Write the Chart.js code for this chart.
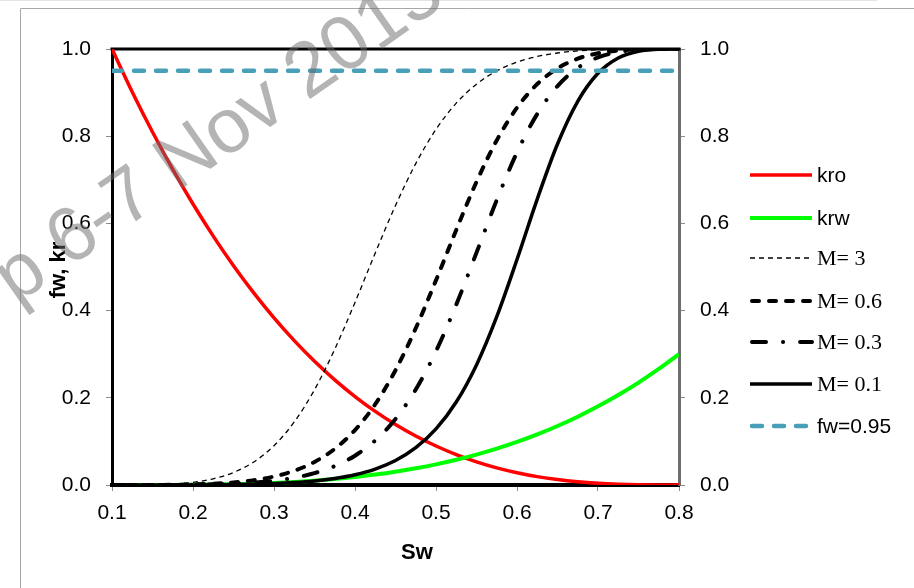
<!DOCTYPE html>
<html><head><meta charset="utf-8">
<script src="https://cdn.jsdelivr.net/npm/chart.js@4"></script>
<style>html,body{margin:0;padding:0;background:#fff;}#wrap{width:914px;height:588px;position:relative;}</style>
</head><body><div id="wrap"><canvas id="c" width="914" height="588"></canvas></div>
<script>
// ---- data ----
const sw = [0.1,0.125,0.15,0.175,0.2,0.225,0.25,0.275,0.3,0.325,0.35,0.375,0.4,0.425,0.45,0.475,0.5,0.525,0.55,0.575,0.6,0.625,0.65,0.675,0.7,0.725,0.75,0.775,0.8];
const kro = [1,0.9015,0.8096,0.724,0.6445,0.5709,0.5029,0.4405,0.3833,0.3312,0.2839,0.2412,0.2029,0.1688,0.1387,0.1123,0.0894,0.0698,0.0532,0.0394,0.0282,0.0192,0.0124,0.0074,0.0039,0.0017,0.0005,0.0001,0];
const krw = [0,0,0.0001,0.0002,0.0005,0.001,0.0019,0.0031,0.0048,0.0071,0.01,0.0137,0.0183,0.0239,0.0305,0.0383,0.0473,0.0578,0.0698,0.0834,0.0988,0.1161,0.1354,0.1567,0.1804,0.2064,0.2349,0.2661,0.3];
const fwM3 = [0,0.0001,0.0006,0.0022,0.0062,0.0143,0.0288,0.0528,0.0902,0.1446,0.2185,0.3114,0.4188,0.532,0.641,0.7372,0.8157,0.8758,0.9194,0.9497,0.9698,0.9828,0.9908,0.9955,0.998,0.9993,0.9998,1,1];
const fwM06 = [0,0,0.0001,0.0004,0.0013,0.0029,0.0059,0.011,0.0194,0.0327,0.0529,0.0829,0.126,0.1853,0.2632,0.3594,0.4695,0.5851,0.6953,0.7905,0.8654,0.9196,0.9556,0.9778,0.9903,0.9965,0.9991,0.9999,1];
const fwM03 = [0,0,0.0001,0.0002,0.0006,0.0015,0.003,0.0056,0.0098,0.0166,0.0272,0.0433,0.0672,0.1021,0.1515,0.219,0.3068,0.4136,0.5329,0.6536,0.7628,0.8511,0.915,0.9566,0.9807,0.9931,0.9983,0.9998,1];
const fwM01 = [0,0,0,0.0001,0.0002,0.0005,0.001,0.0019,0.0033,0.0056,0.0092,0.0149,0.0235,0.0365,0.0562,0.0855,0.1286,0.1903,0.2755,0.3861,0.5173,0.6558,0.7821,0.8801,0.9443,0.9795,0.9949,0.9995,1];
const fwLimitSw = [0.1, 0.8];
const fwLimit = [0.95, 0.95];
const xTicks = [0.1,0.2,0.3,0.4,0.5,0.6,0.7,0.8];
const yTicks = [0,0.2,0.4,0.6,0.8,1.0];
const seriesNames = ['kro','krw','M= 3','M= 0.6','M= 0.3','M= 0.1','fw=0.95'];
const xTitle = 'Sw';
const yTitle = 'fw, kr';
const watermark = 'p 6-7 Nov 2013';

// ---- chart ----
const SANS = '"Liberation Sans", Arial, sans-serif';
const SERIF = '"Liberation Serif", "Times New Roman", serif';
const pts = (xs, ys) => xs.map((x, i) => ({x: x, y: ys[i]}));
const base = {pointRadius: 0, pointHoverRadius: 0, fill: false, cubicInterpolationMode: 'monotone', borderJoinStyle: 'round'};

const datasets = [
  Object.assign({}, base, {label: seriesNames[0], data: pts(sw, kro), borderColor: '#FF0000', borderWidth: 3.5, order: 6}),
  Object.assign({}, base, {label: seriesNames[1], data: pts(sw, krw), borderColor: '#00FF00', borderWidth: 4, order: 5}),
  Object.assign({}, base, {label: seriesNames[2], data: pts(sw, fwM3), borderColor: '#000000', borderWidth: 1.3, borderDash: [5, 4], order: 4}),
  Object.assign({}, base, {label: seriesNames[3], data: pts(sw, fwM06), borderColor: '#000000', borderWidth: 4, borderDash: [7, 10], borderCapStyle: 'round', order: 3}),
  Object.assign({}, base, {label: seriesNames[4], data: pts(sw, fwM03), borderColor: '#000000', borderWidth: 4, borderDash: [14, 17, 0.1, 17], borderCapStyle: 'round', order: 2}),
  Object.assign({}, base, {label: seriesNames[5], data: pts(sw, fwM01), borderColor: '#000000', borderWidth: 3.5, order: 1}),
  Object.assign({}, base, {label: seriesNames[6], data: pts(fwLimitSw, fwLimit), borderColor: '#4A9FB8', borderWidth: 4.5, borderDash: [10, 12], borderCapStyle: 'round', cubicInterpolationMode: 'default', order: 0})
];
const legendFonts = ['21px ' + SANS, '21px ' + SANS, '22px ' + SERIF, '22px ' + SERIF, '22px ' + SERIF, '22px ' + SERIF, '21px ' + SANS];
const legendY = [175, 218, 258, 301, 342, 384, 426];

const decor = {
  id: 'decor',
  beforeDatasetsDraw(chart) {
    const ctx = chart.ctx, a = chart.chartArea;
    ctx.save();
    ctx.strokeStyle = '#000'; ctx.lineWidth = 3;
    ctx.beginPath(); ctx.moveTo(a.left - 1.5, a.top); ctx.lineTo(a.right + 1.5, a.top); ctx.stroke();
    ctx.restore();
  },
  afterDraw(chart) {
    const ctx = chart.ctx, a = chart.chartArea;
    ctx.save();
    // outer frame
    ctx.strokeStyle = '#A8A8A8'; ctx.lineWidth = 1;
    ctx.beginPath(); ctx.moveTo(20.5, 588); ctx.lineTo(20.5, 8.5); ctx.lineTo(914, 8.5); ctx.stroke();
    ctx.strokeStyle = '#E4E4E4';
    ctx.beginPath(); ctx.moveTo(0, 0.5); ctx.lineTo(877, 0.5); ctx.stroke();
    // axis titles
    ctx.fillStyle = '#000';
    ctx.font = 'bold 22px ' + SANS;
    ctx.textAlign = 'center'; ctx.textBaseline = 'middle';
    ctx.fillText(xTitle, 417, 553);
    ctx.save();
    ctx.translate(59, 270); ctx.rotate(-Math.PI / 2);
    ctx.fillText(yTitle, 0, 0);
    ctx.restore();
    // legend
    chart.data.datasets.forEach((ds, i) => {
      const y = legendY[i];
      ctx.save();
      ctx.strokeStyle = ds.borderColor; ctx.lineWidth = ds.borderWidth;
      ctx.lineCap = ds.borderCapStyle || 'butt';
      ctx.setLineDash(ds.borderDash || []);
      ctx.beginPath(); ctx.moveTo(750 + (ds.borderCapStyle === 'round' ? 2 : 0), y); ctx.lineTo(812, y); ctx.stroke();
      ctx.restore();
      ctx.font = legendFonts[i];
      ctx.textAlign = 'left'; ctx.textBaseline = 'middle'; ctx.fillStyle = '#000';
      ctx.fillText(ds.label, 817, y + 1);
    });
    // watermark
    ctx.save();
    ctx.translate(16, 305); ctx.rotate(-35 * Math.PI / 180);
    ctx.font = '77px ' + SANS;
    ctx.fillStyle = 'rgba(105,105,105,0.5)';
    ctx.textAlign = 'left'; ctx.textBaseline = 'alphabetic';
    ctx.fillText(watermark, 0, 0);
    ctx.restore();
    ctx.restore();
  }
};

const tickFont = {family: SANS, size: 21};
const gridOpts = {drawOnChartArea: false, drawTicks: true, tickLength: 6, color: '#8C8C8C', lineWidth: 1};

new Chart(document.getElementById('c'), {
  type: 'line',
  data: {datasets: datasets},
  options: {
    responsive: false, animation: false, devicePixelRatio: 1, events: [],
    layout: {padding: {left: 0, top: 49, right: 175, bottom: 0}},
    plugins: {legend: {display: false}, tooltip: {enabled: false}, title: {display: false}},
    scales: {
      x: {type: 'linear', min: 0.1, max: 0.8,
          afterBuildTicks: s => { s.ticks = xTicks.map(v => ({value: v})); },
          ticks: {callback: v => Number(v).toFixed(1), font: tickFont, color: '#000', padding: 10, maxRotation: 0, autoSkip: false},
          grid: gridOpts, border: {display: true, color: '#000', width: 4},
          afterFit: s => { s.height = 103; }},
      y: {type: 'linear', position: 'left', min: 0, max: 1,
          afterBuildTicks: s => { s.ticks = yTicks.map(v => ({value: v})); },
          ticks: {callback: v => Number(v).toFixed(1), font: tickFont, color: '#000', padding: 15},
          grid: gridOpts, border: {display: true, color: '#000', width: 3},
          afterFit: s => { s.width = 112; }},
      y2: {type: 'linear', position: 'right', min: 0, max: 1,
          afterBuildTicks: s => { s.ticks = yTicks.map(v => ({value: v})); },
          ticks: {callback: v => Number(v).toFixed(1), font: tickFont, color: '#000', padding: 15},
          grid: gridOpts, border: {display: true, color: '#6E6E6E', width: 3},
          afterFit: s => { s.width = 60; }}
    }
  },
  plugins: [decor]
});
</script></body></html>
